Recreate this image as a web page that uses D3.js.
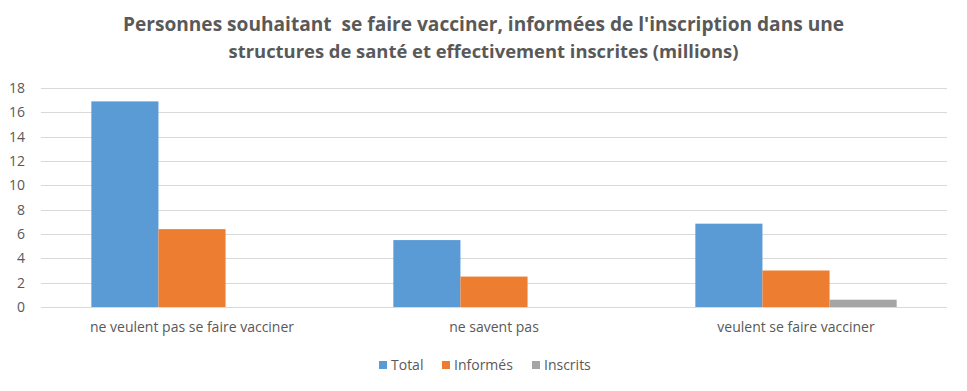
<!DOCTYPE html>
<html>
<head>
<meta charset="utf-8">
<script src="https://cdn.jsdelivr.net/npm/d3@7"></script>
<style>
  body { margin: 0; background: #fff; }
  text { font-family: "Open Sans", "Noto Sans", sans-serif; fill: #595959; }
</style>
</head>
<body>
<div id="chart"></div>
<script>
const categories = ["ne veulent pas se faire vacciner", "ne savent pas", "veulent se faire vacciner"];
const seriesNames = ["Total", "Informés", "Inscrits"];
const totalValues = [16.9, 5.5, 6.85];
const informesValues = [6.4, 2.5, 3.0];
const inscritsValues = [0, 0, 0.6];
const yTicks = [0, 2, 4, 6, 8, 10, 12, 14, 16, 18];
const colors = ["#5B9BD5", "#ED7D31", "#A5A5A5"];
const titleLines = [
  "Personnes souhaitant  se faire vacciner, informées de l'inscription dans une",
  "structures de santé et effectivement inscrites (millions)"
];

const width = 967, height = 391;
const margin = { top: 88, right: 20, bottom: 84, left: 41 };

const svg = d3.select("#chart")
  .append("svg")
  .attr("width", width)
  .attr("height", height);

const series = [totalValues, informesValues, inscritsValues];
const table = categories.map((c, i) => ({
  cat: c,
  vals: seriesNames.map((s, j) => ({ name: s, value: series[j][i], idx: j }))
}));

const x0 = d3.scaleBand()
  .domain(categories)
  .range([margin.left, width - margin.right])
  .paddingInner(0)
  .paddingOuter(0);

// Excel gap width 150%: group = 3 bars, gap = 1.5 bars
const x1 = d3.scaleBand()
  .domain(seriesNames)
  .range([0, x0.bandwidth()])
  .paddingInner(0)
  .paddingOuter(0.75);

const y = d3.scaleLinear()
  .domain([0, 18])
  .range([height - margin.bottom, margin.top]);

// grid lines
svg.append("g")
  .selectAll("line")
  .data(yTicks)
  .join("line")
  .attr("x1", margin.left)
  .attr("x2", width - margin.right)
  .attr("y1", d => Math.round(y(d)) + 0.5)
  .attr("y2", d => Math.round(y(d)) + 0.5)
  .attr("stroke", "#D9D9D9")
  .attr("stroke-width", 1);

// y labels
svg.append("g")
  .selectAll("text")
  .data(yTicks)
  .join("text")
  .attr("x", 25)
  .attr("y", d => y(d))
  .attr("dy", "0.35em")
  .attr("text-anchor", "end")
  .attr("font-size", "14px")
  .text(d => d);

// bars
const groups = svg.append("g")
  .selectAll("g")
  .data(table)
  .join("g")
  .attr("transform", d => `translate(${x0(d.cat)},0)`);

groups.selectAll("rect")
  .data(d => d.vals)
  .join("rect")
  .attr("x", d => x1(d.name))
  .attr("width", x1.bandwidth())
  .attr("y", d => y(d.value))
  .attr("height", d => y(0) - y(d.value))
  .attr("fill", d => colors[d.idx]);

// category labels
svg.append("g")
  .selectAll("text")
  .data(categories)
  .join("text")
  .attr("x", d => x0(d) + x0.bandwidth() / 2)
  .attr("y", 332)
  .attr("text-anchor", "middle")
  .attr("font-size", "14px")
  .text(d => d);

// title
const titleWidths = [721, 510];
titleLines.forEach((t, i) => {
  const el = svg.append("text")
    .attr("x", width / 2)
    .attr("y", 31 + i * 27)
    .attr("text-anchor", "middle")
    .attr("font-weight", "bold")
    .attr("font-size", "18px")
    .style("white-space", "pre")
    .text(t);
  const w = el.node().getComputedTextLength();
  el.attr("font-size", (18 * titleWidths[i] / w).toFixed(2) + "px");
});

// legend
const legendX = [379, 442, 532];
const legend = svg.append("g")
  .selectAll("g")
  .data(seriesNames)
  .join("g")
  .attr("transform", (d, i) => `translate(${legendX[i]},365)`);

legend.append("rect")
  .attr("x", 0)
  .attr("y", -4)
  .attr("width", 8)
  .attr("height", 8)
  .attr("fill", (d, i) => colors[i]);

legend.append("text")
  .attr("x", 12)
  .attr("y", 0)
  .attr("dy", "0.35em")
  .attr("font-size", "14px")
  .text(d => d);
</script>
</body>
</html>
